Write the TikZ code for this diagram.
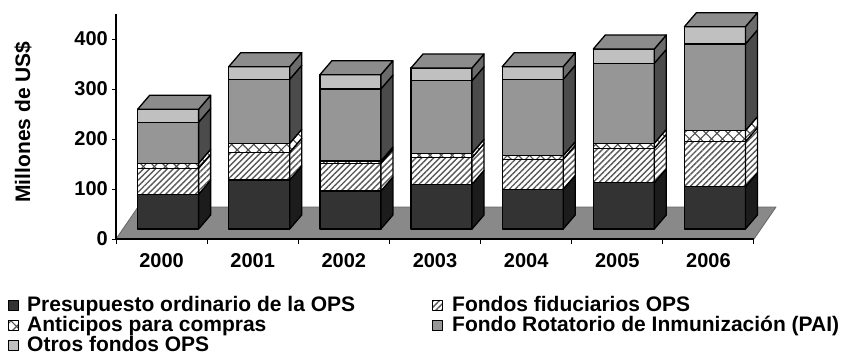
\documentclass[tikz,border=0pt]{standalone}
\usepackage{fontspec}
\setmainfont{Liberation Sans}
\usepackage{tikz}
\usetikzlibrary{patterns,patterns.meta}

\definecolor{ordin}{HTML}{333333}
\definecolor{ordinside}{HTML}{1C1C1C}
\definecolor{paifill}{HTML}{969696}
\definecolor{paiside}{HTML}{4B4B4B}
\definecolor{otrfill}{HTML}{C0C0C0}
\definecolor{otrside}{HTML}{6B6B6B}
\definecolor{topfill}{HTML}{8C8C8C}
\definecolor{floorfill}{HTML}{898989}

% one slice of a bar: x, bottom, top, front style, side style
\newcommand{\barseg}[5]{%
  \path[#4] (#1,#2) rectangle (#1+61,#3);
  \path[#5] (#1+61,#2) -- (#1+73,#2-14) -- (#1+73,#3-14) -- (#1+61,#3) -- cycle;
}
% whole bar: x, then the top of each fund
\newcommand{\stackbar}[6]{%
  \barseg{#1}{229}{#2}{segord}{sideord}
  \barseg{#1}{#2}{#3}{segfid}{segfid}
  \barseg{#1}{#3}{#4}{segant}{segant}
  \barseg{#1}{#4}{#5}{segpai}{sidepai}
  \barseg{#1}{#5}{#6}{segotr}{sideotr}
  \path[segtop] (#1,#6) -- (#1+12,#6-14) -- (#1+73,#6-14) -- (#1+61,#6) -- cycle;
}

\begin{document}
\begin{tikzpicture}[x=1pt, y=-1pt, line join=round,
  lbl/.style={font=\fontsize{20}{20}\selectfont\bfseries, inner sep=0pt},
  leg/.style={font=\fontsize{21}{21}\selectfont\bfseries, inner sep=0pt, anchor=base west},
  edge/.style={draw=black, line width=1.3pt},
  segord/.style={edge, fill=ordin}, sideord/.style={edge, fill=ordinside},
  segfid/.style={edge, preaction={fill=white}, pattern={Lines[angle=45,distance=4.2pt,line width=1.4pt]}, pattern color=black!65},
  segant/.style={edge, preaction={fill=white}, preaction={pattern={Lines[angle=45,distance=7.8pt,line width=1.1pt]}, pattern color=black!70}, pattern={Lines[angle=-45,distance=7.8pt,line width=1.1pt]}, pattern color=black!70},
  segpai/.style={edge, fill=paifill}, sidepai/.style={edge, fill=paiside},
  segotr/.style={edge, fill=otrfill}, sideotr/.style={edge, fill=otrside},
  segtop/.style={edge, fill=topfill},
  legmark/.style={rectangle, minimum size=10pt, inner sep=0pt}]
\useasboundingbox (0,0) rectangle (845,354);

% floor and axes
\coordinate (o) at (116,239);
\coordinate (ytop) at (116,14);
\coordinate (xend) at (754,239);
\filldraw[fill=floorfill, draw=black!60, line width=0.8pt] (o) -- (xend) -- (776,207) -- (138,207) -- cycle;
\draw[line width=1.2pt] (ytop) -- (o) -- (xend);
\foreach \v in {0,100,...,400} {
  \draw[line width=1pt] (112,239-\v/2) -- (116,239-\v/2);
  \node[lbl, anchor=east] (t\v) at (108,239-\v/2) {\v};
}
\foreach \i in {0,...,7}
  \draw[line width=1pt] ({116+91.14*\i},239) -- ++(0,5);
\node[lbl, rotate=90, font=\fontsize{21}{21}\selectfont\bfseries] (ytitle) at (23,122) {Millones de US\$};

% bars
\stackbar{137.6}{194.3}{168.3}{163.3}{122.3}{109.3}
\stackbar{228.7}{180}{152.3}{143.3}{79.3}{66.7}
\stackbar{319.9}{191}{163.3}{161}{89}{74.7}
\stackbar{411}{184.3}{157.7}{153.3}{80.7}{68}
\stackbar{502.2}{189.3}{159.3}{155.7}{79.3}{66.7}
\stackbar{593.3}{182.7}{148.3}{143.3}{63.3}{49}
\stackbar{684.4}{186.7}{141.7}{130.7}{44}{26.7}

\foreach \yr [count=\i from 0] in {2000,2001,2002,2003,2004,2005,2006}
  \node[lbl] (y\yr) at ({116+91.14*(\i+0.5)},261) {\yr};

% legend
\node[legmark, segord, line width=0.8pt] (m1) at (13.5,305.5) {};
\node[leg] (l1) at (27,311.5) {Presupuesto ordinario de la OPS};
\node[legmark, segant, line width=0.8pt] (m3) at (13.5,325.5) {};
\node[leg] (l3) at (27,331.5) {Anticipos para compras};
\node[legmark, segotr, line width=0.8pt] (m5) at (13.5,345) {};
\node[leg] (l5) at (27,351) {Otros fondos OPS};
\node[legmark, segfid, line width=0.8pt] (m2) at (437,305.5) {};
\node[leg] (l2) at (452,311.5) {Fondos fiduciarios OPS};
\node[legmark, segpai, line width=0.8pt] (m4) at (437,325.5) {};
\node[leg] (l4) at (452,331.5) {Fondo Rotatorio de Inmunización (PAI)};
\end{tikzpicture}
\end{document}
